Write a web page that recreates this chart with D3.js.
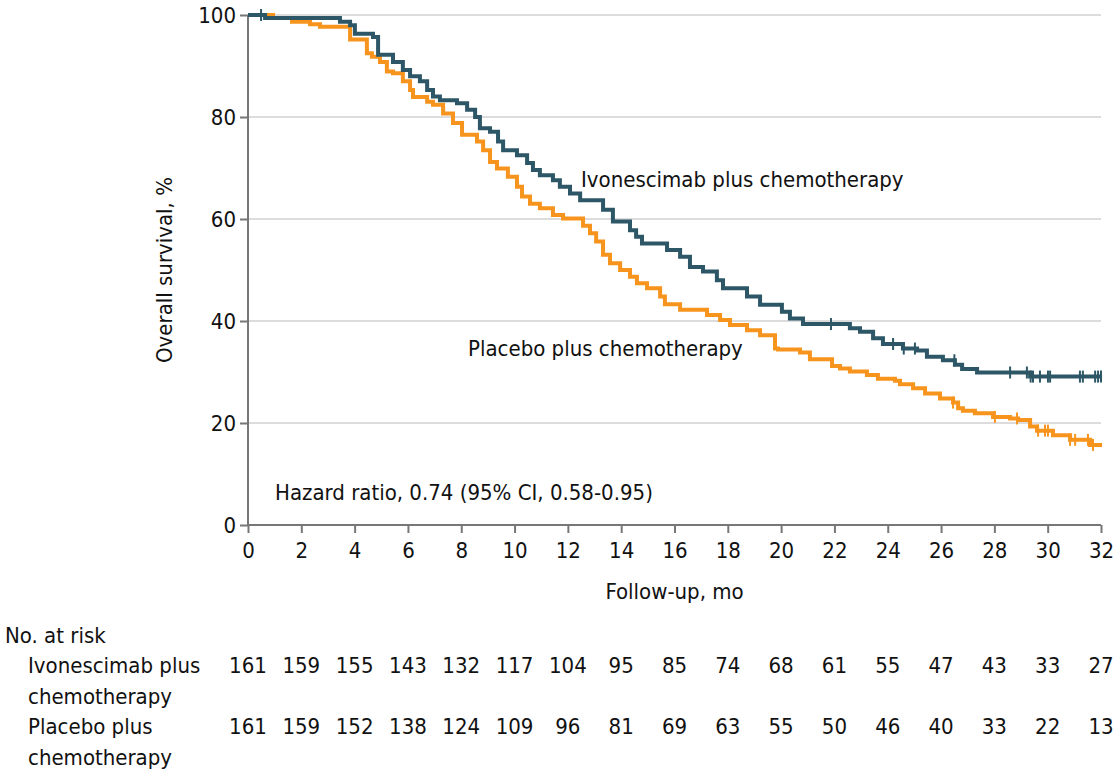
<!DOCTYPE html>
<html>
<head>
<meta charset="utf-8">
<script src="https://cdn.jsdelivr.net/npm/d3@7"></script>
<style>
  body { margin: 0; background: #fff; }
  svg text { font-family: "Liberation Sans Narrow", "DejaVu Sans Condensed", "Open Sans", sans-serif; fill: #111; }
</style>
</head>
<body>
<svg id="chart" width="1118" height="773"></svg>
<script>
// step data: [month, survival %] -- value holds from that month on
var ivoSteps = [
  [0, 100], [0.64, 99.4], [3.45, 98.7], [3.83, 98.0], [4.01, 96.3], [4.69, 95.7], [4.88, 92.2],
  [5.44, 90.8], [5.81, 89.2], [6.08, 88.0], [6.45, 87.0], [6.72, 85.3], [6.94, 84.0], [7.20, 83.3],
  [7.84, 82.7], [8.22, 81.4], [8.52, 80.0], [8.70, 77.8], [9.08, 77.1], [9.38, 75.2], [9.57, 73.5],
  [10.09, 72.5], [10.47, 71.0], [10.69, 69.6], [10.95, 68.6], [11.44, 67.6], [11.70, 66.3],
  [12.08, 65.0], [12.46, 63.7], [13.32, 61.8], [13.69, 59.5], [14.33, 57.8], [14.56, 56.5],
  [14.78, 55.2], [15.72, 53.9], [16.21, 52.6], [16.58, 50.6], [17.07, 49.7], [17.59, 48.0],
  [17.82, 46.4], [18.72, 44.8], [19.21, 43.2], [20.03, 41.8], [20.33, 40.5], [20.82, 39.4],
  [22.58, 38.6], [22.96, 37.9], [23.45, 36.6], [23.82, 35.5], [24.57, 34.6], [25.10, 34.2],
  [25.47, 33.0], [26.07, 32.3], [26.52, 31.4], [26.79, 30.6], [27.35, 29.9], [29.34, 29.1], [32.04, 29.1]
];
var ivoCensor = [0.49, 21.87, 24.2, 24.6, 25.02, 26.5, 28.59, 29.22, 29.36, 29.45, 29.71, 30.01, 30.09,
  31.21, 31.32, 31.78, 31.89, 32.0];

var pboSteps = [
  [0, 100], [0.94, 99.4], [1.65, 98.7], [2.33, 98.2], [2.70, 97.7], [3.83, 95.2], [4.46, 92.5],
  [4.65, 91.8], [4.95, 90.8], [5.21, 88.9], [5.44, 88.6], [5.81, 87.0], [6.08, 85.3], [6.19, 83.9],
  [6.72, 83.0], [6.94, 82.4], [7.32, 80.7], [7.69, 78.8], [8.03, 76.5], [8.59, 75.2], [8.82, 73.5],
  [9.08, 71.2], [9.34, 69.9], [9.75, 68.3], [10.09, 66.3], [10.28, 64.4], [10.58, 63.0],
  [10.95, 62.1], [11.44, 60.8], [11.82, 60.1], [12.57, 58.7], [12.83, 57.2], [13.06, 55.6],
  [13.32, 53.0], [13.58, 51.3], [13.96, 50.0], [14.33, 48.7], [14.59, 47.4], [14.97, 46.4],
  [15.46, 44.8], [15.64, 43.3], [16.21, 42.2], [17.22, 41.2], [17.71, 40.2], [18.08, 39.2],
  [18.72, 38.2], [19.21, 37.2], [19.77, 34.6], [19.88, 34.4], [20.71, 33.8], [21.08, 32.5],
  [21.91, 31.2], [22.21, 30.7], [22.58, 30.1], [23.22, 29.4], [23.63, 28.7], [24.27, 28.3],
  [24.46, 27.6], [24.95, 26.8], [25.40, 25.8], [25.96, 24.8], [26.45, 24.0], [26.64, 22.9],
  [26.82, 22.4], [27.27, 21.9], [27.95, 21.2], [28.59, 20.9], [28.89, 20.6], [29.34, 19.3],
  [29.60, 18.5], [30.20, 17.6], [30.84, 16.7], [31.59, 15.7], [32.04, 15.7]
];
var pboCensor = [26.45, 28.02, 28.85, 29.64, 29.90, 30.01, 30.84, 31.03, 31.51, 31.70];

var xTicks = d3.range(0, 33, 2);
var yTicks = [0, 20, 40, 60, 80, 100];

var riskIvo = [161, 159, 155, 143, 132, 117, 104, 95, 85, 74, 68, 61, 55, 47, 43, 33, 27];
var riskPbo = [161, 159, 152, 138, 124, 109, 96, 81, 69, 63, 55, 50, 46, 40, 33, 22, 13];

var teal = '#2d5766';
var orange = '#f7941d';
var fs = '22px';

var svg = d3.select('#chart');

var x = d3.scaleLinear().domain([0, 32]).range([248, 1101]);
var y = d3.scaleLinear().domain([0, 100]).range([525, 15]);

// gridlines
svg.append('g')
  .selectAll('line')
  .data(yTicks.filter(function(d) { return d > 0; }))
  .enter().append('line')
  .attr('x1', x(0)).attr('x2', x(32))
  .attr('y1', function(d) { return y(d); })
  .attr('y2', function(d) { return y(d); })
  .attr('stroke', '#dcdcdc')
  .attr('stroke-width', 2);

// axes
var yAxis = svg.append('g')
  .attr('transform', 'translate(' + x(0) + ',0)')
  .call(d3.axisLeft(y).tickValues(yTicks).tickSize(8).tickPadding(4));
var xAxis = svg.append('g')
  .attr('transform', 'translate(0,' + y(0) + ')')
  .call(d3.axisBottom(x).tickValues(xTicks).tickSize(8).tickPadding(9));

[xAxis, yAxis].forEach(function(a) {
  a.select('.domain').attr('stroke', '#777').attr('stroke-width', 2);
  a.selectAll('.tick line').attr('stroke', '#777').attr('stroke-width', 2);
  a.selectAll('.tick text').style('font-size', fs).attr('fill', '#111');
});
xAxis.select('.domain').attr('d', 'M' + x(0) + ',0H' + x(32));
yAxis.select('.domain').attr('d', 'M0,' + y(0) + 'V' + y(100));

// curves
var line = d3.line()
  .x(function(d) { return x(d[0]); })
  .y(function(d) { return y(d[1]); })
  .curve(d3.curveStepAfter);

function valueAt(steps, t) {
  var v = steps[0][1];
  steps.forEach(function(s) { if (s[0] <= t) v = s[1]; });
  return v;
}

function drawArm(steps, censor, color) {
  svg.append('path')
    .datum(steps)
    .attr('d', line)
    .attr('fill', 'none')
    .attr('stroke', color)
    .attr('stroke-width', 4);
  svg.append('g')
    .selectAll('line')
    .data(censor)
    .enter().append('line')
    .attr('x1', function(d) { return x(d); })
    .attr('x2', function(d) { return x(d); })
    .attr('y1', function(d) { return y(valueAt(steps, d)) - 6; })
    .attr('y2', function(d) { return y(valueAt(steps, d)) + 6; })
    .attr('stroke', color)
    .attr('stroke-width', 2);
}

drawArm(pboSteps, pboCensor, orange);
drawArm(ivoSteps, ivoCensor, teal);

// labels
svg.append('text').attr('x', 581).attr('y', 187).style('font-size', fs)
  .text('Ivonescimab plus chemotherapy');
svg.append('text').attr('x', 468).attr('y', 356).style('font-size', fs)
  .text('Placebo plus chemotherapy');
svg.append('text').attr('x', 275).attr('y', 500).style('font-size', fs)
  .text('Hazard ratio, 0.74 (95% CI, 0.58-0.95)');

svg.append('text').attr('x', x(16)).attr('y', 599)
  .attr('text-anchor', 'middle').style('font-size', fs)
  .text('Follow-up, mo');
svg.append('text')
  .attr('transform', 'translate(172,' + y(50) + ') rotate(-90)')
  .attr('text-anchor', 'middle').style('font-size', fs)
  .text('Overall survival, %');

// number at risk table
svg.append('text').attr('x', 5).attr('y', 643).style('font-size', fs).text('No. at risk');
var rowLabels = [
  { lines: ['Ivonescimab plus', 'chemotherapy'], y: 673, data: riskIvo },
  { lines: ['Placebo plus', 'chemotherapy'], y: 734, data: riskPbo }
];
rowLabels.forEach(function(r) {
  r.lines.forEach(function(l, i) {
    svg.append('text').attr('x', 28).attr('y', r.y + i * 30.5)
      .style('font-size', fs).text(l);
  });
  svg.append('g')
    .selectAll('text')
    .data(r.data)
    .enter().append('text')
    .attr('x', function(d, i) { return x(xTicks[i]); })
    .attr('y', r.y)
    .attr('text-anchor', 'middle')
    .style('font-size', fs)
    .text(function(d) { return d; });
});
</script>
</body>
</html>
